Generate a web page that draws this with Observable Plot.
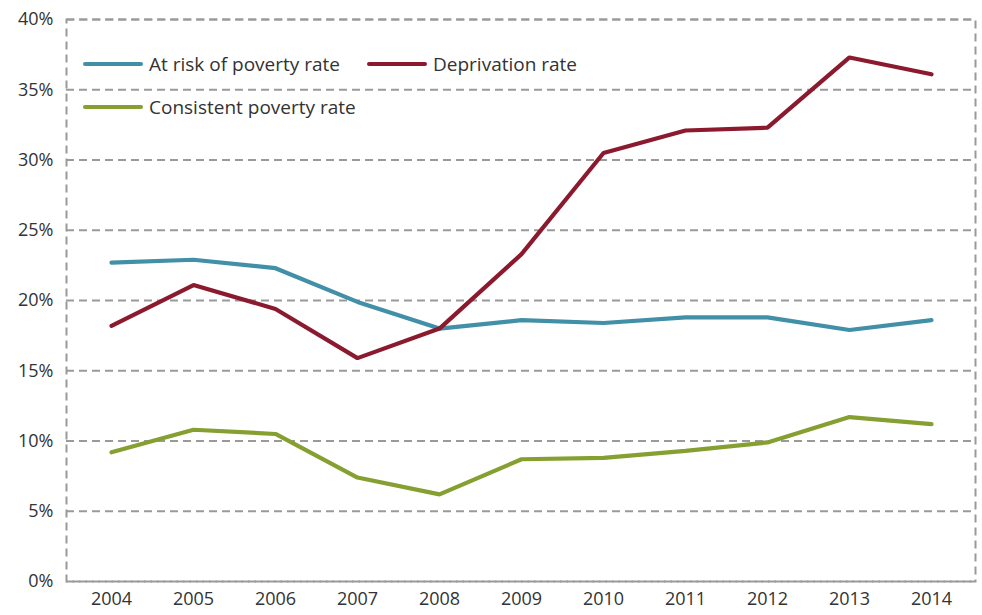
<!DOCTYPE html>
<html>
<head>
<meta charset="utf-8">
<script src="https://cdn.jsdelivr.net/npm/d3@7"></script>
<script src="https://cdn.jsdelivr.net/npm/@observablehq/plot@0.6"></script>
<style>
  html, body { margin: 0; padding: 0; background: #fff; }
  #wrap { position: relative; width: 982px; height: 615px; font-family: "Open Sans", sans-serif; }
  .legend { position: absolute; font-size: 19px; color: #333; display: flex; align-items: center; white-space: nowrap; }
  .legend .sw { display: inline-block; width: 60px; height: 4px; border-radius: 2px; margin-right: 6px; }
</style>
</head>
<body>
<div id="wrap"></div>
<script>
const years = ["2004","2005","2006","2007","2008","2009","2010","2011","2012","2013","2014"];
const atRisk = [22.7, 22.9, 22.3, 19.9, 18.0, 18.6, 18.4, 18.8, 18.8, 17.9, 18.6];
const deprivation = [18.2, 21.1, 19.4, 15.9, 18.0, 23.3, 30.5, 32.1, 32.3, 37.3, 36.1];
const consistent = [9.2, 10.8, 10.5, 7.4, 6.2, 8.7, 8.8, 9.3, 9.9, 11.7, 11.2];
const seriesNames = ["At risk of poverty rate", "Deprivation rate", "Consistent poverty rate"];
const seriesColors = ["#428FA8", "#8B1A2F", "#85A030"];
const yTicks = [0, 5, 10, 15, 20, 25, 30, 35, 40];

const seriesValues = [atRisk, deprivation, consistent];
const rows = [];
seriesNames.forEach((name, i) => {
  years.forEach((yr, j) => rows.push({series: name, year: yr, value: seriesValues[i][j]}));
});

const dash = "8,5";
const chart = Plot.plot({
  width: 982,
  height: 615,
  marginLeft: 66,
  marginRight: 7,
  marginTop: 19,
  marginBottom: 34,
  style: {fontFamily: "'Open Sans', sans-serif", fontSize: "18px", color: "#333", background: "#fff"},
  x: {type: "point", domain: years, padding: 0.5, label: null, tickSize: 0, tickPadding: 11},
  y: {domain: [0, 40], label: null, ticks: yTicks, tickSize: 0, tickPadding: 13, tickFormat: d => d + "%"},
  color: {domain: seriesNames, range: seriesColors},
  marks: [
    Plot.gridY(yTicks, {stroke: "#9a9a9a", strokeOpacity: 1, strokeWidth: 2, strokeDasharray: dash}),
    Plot.frame({stroke: "#9a9a9a", strokeWidth: 2, strokeDasharray: dash}),
    Plot.line(rows, {x: "year", y: "value", z: "series", stroke: "series", strokeWidth: 4.2, strokeLinecap: "round", strokeLinejoin: "miter"})
  ]
});
document.getElementById("wrap").appendChild(chart);

const legendPos = [[83, 64], [367, 64], [83, 107]];
seriesNames.forEach((name, i) => {
  const d = document.createElement("div");
  d.className = "legend";
  d.style.left = legendPos[i][0] + "px";
  d.style.top = (legendPos[i][1] - 12) + "px";
  d.style.height = "24px";
  const sw = document.createElement("span");
  sw.className = "sw";
  sw.style.background = seriesColors[i];
  d.appendChild(sw);
  d.appendChild(document.createTextNode(name));
  document.getElementById("wrap").appendChild(d);
});
</script>
</body>
</html>
